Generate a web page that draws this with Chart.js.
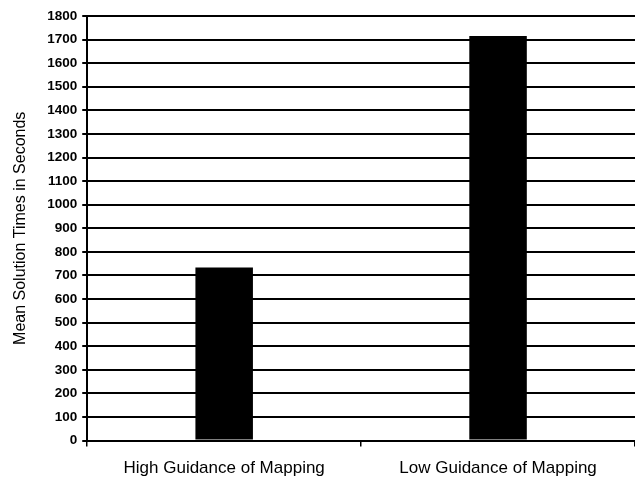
<!DOCTYPE html>
<html>
<head>
<meta charset="utf-8">
<script src="https://cdn.jsdelivr.net/npm/chart.js@4/dist/chart.umd.min.js"></script>
<style>
  html, body { margin: 0; padding: 0; background: #fff; }
  #wrap { width: 635px; height: 479px; }
</style>
</head>
<body>
<div id="wrap"><canvas id="solutionChart"></canvas></div>
<script>
// data
var categories = ['High Guidance of Mapping', 'Low Guidance of Mapping'];
var meanTimes = [734, 1715];
var yTitle = 'Mean Solution Times in Seconds';

var ctx = document.getElementById('solutionChart').getContext('2d');

new Chart(ctx, {
    type: 'bar',
    data: {
        labels: categories,
        datasets: [{
            label: 'Mean solution time',
            data: meanTimes,
            backgroundColor: '#000',
            borderWidth: 0,
            categoryPercentage: 1,
            barPercentage: 0.21
        }]
    },
    options: {
        responsive: true,
        maintainAspectRatio: false,
        animation: false,
        layout: { padding: { top: 16, right: 0, left: 11, bottom: -12 } },
        plugins: {
            legend: { display: false },
            tooltip: { enabled: false }
        },
        scales: {
            x: {
                grid: {
                    drawOnChartArea: false,
                    color: '#000',
                    lineWidth: 1.5,
                    tickLength: 6
                },
                border: { color: '#000', width: 2 },
                ticks: {
                    color: '#000',
                    padding: 12,
                    maxRotation: 0,
                    font: { family: 'Liberation Sans, Arial, sans-serif', size: 17 }
                }
            },
            y: {
                min: 0,
                max: 1800,
                ticks: {
                    stepSize: 100,
                    color: '#000',
                    padding: 5,
                    font: { family: 'Liberation Sans, Arial, sans-serif', size: 13.5, weight: 'bold' },
                    callback: function (value) { return String(value); }
                },
                grid: {
                    color: '#000',
                    lineWidth: 2,
                    tickLength: 5
                },
                border: { color: '#000', width: 2 },
                title: {
                    display: true,
                    text: yTitle,
                    color: '#000',
                    padding: { top: 0, bottom: 12 },
                    font: { family: 'Liberation Sans, Arial, sans-serif', size: 16 }
                }
            }
        }
    }
});
</script>
</body>
</html>
